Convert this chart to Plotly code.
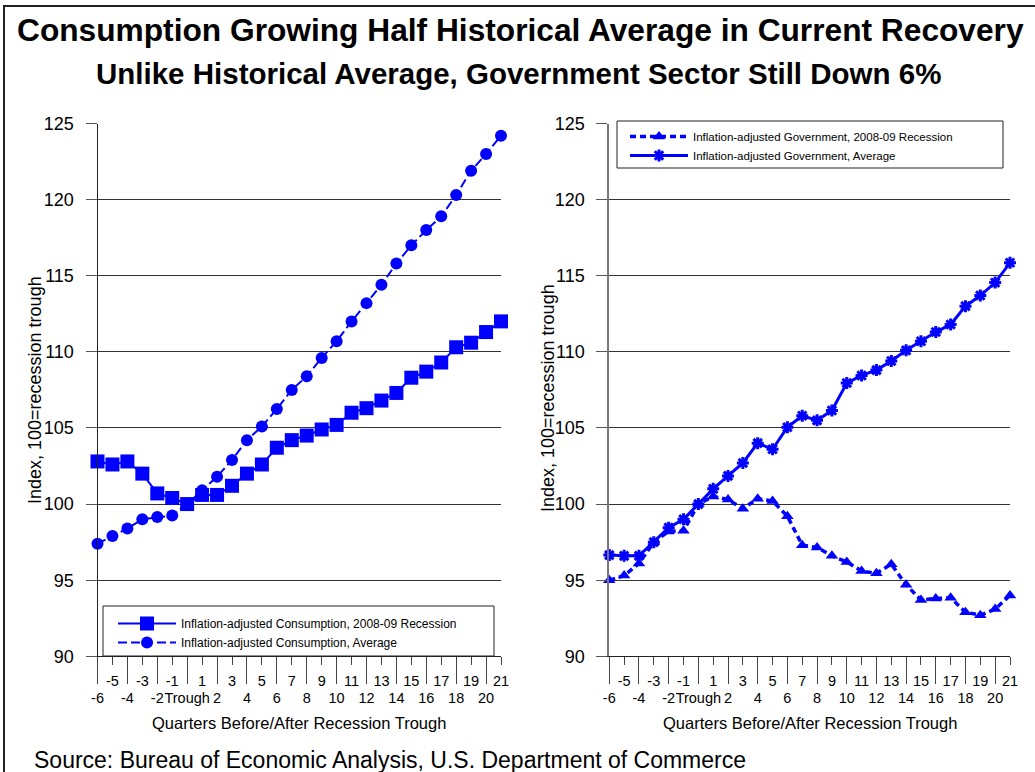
import plotly.graph_objects as go

quarters = list(range(-6, 22))
cons_2008 = [102.8, 102.6, 102.8, 102.0, 100.7, 100.4, 100.0, 100.6, 100.6, 101.2, 102.0, 102.6,
             103.7, 104.2, 104.5, 104.9, 105.2, 106.0, 106.3, 106.8, 107.3, 108.3, 108.7, 109.3,
             110.3, 110.6, 111.3, 112.0]
cons_avg = [97.4, 97.9, 98.4, 99.0, 99.15, 99.25, 100.0, 100.9, 101.8, 102.9, 104.2, 105.1,
            106.25, 107.5, 108.4, 109.6, 110.7, 112.0, 113.2, 114.4, 115.8, 117.0, 118.0, 118.9,
            120.3, 121.9, 123.0, 124.2]
gov_2008 = [95.0, 95.3, 96.1, 97.5, 98.2, 98.25, 100.0, 100.5, 100.3, 99.7, 100.35, 100.2,
            99.2, 97.3, 97.15, 96.6, 96.2, 95.6, 95.45, 96.05, 94.7, 93.7, 93.8, 93.85,
            92.9, 92.7, 93.1, 94.0]
gov_avg = [96.65, 96.6, 96.6, 97.5, 98.45, 99.0, 100.0, 101.0, 101.85, 102.7, 104.0, 103.6,
           105.05, 105.8, 105.5, 106.15, 107.95, 108.45, 108.8, 109.4, 110.1, 110.7, 111.3, 111.8,
           113.0, 113.7, 114.55, 115.85]

even_ticks = [-6, -4, -2, 0, 2, 4, 6, 8, 10, 12, 14, 16, 18, 20]
even_labels = ["-6", "-4", "-2", "Trough", "2", "4", "6", "8", "10", "12", "14", "16", "18", "20"]
odd_ticks = [-5, -3, -1, 1, 3, 5, 7, 9, 11, 13, 15, 17, 19, 21]
odd_labels = ["-5", "-3", "-1", "1", "3", "5", "7", "9", "11", "13", "15", "17", "19", "21"]

title = "Consumption Growing Half Historical Average in Current Recovery"
subtitle = "Unlike Historical Average, Government Sector Still Down 6%"
x_title = "Quarters Before/After Recession Trough"
y_title = "Index, 100=recession trough"
source = "Source: Bureau of Economic Analysis, U.S. Department of Commerce"

FONT = "Liberation Sans, Arial, sans-serif"
BLUE = "#0000FF"
W, H = 1035, 772

fig = go.Figure()

fig.add_trace(go.Scatter(x=quarters, y=cons_2008, mode="lines+markers",
                         name="Inflation-adjusted Consumption, 2008-09 Recession",
                         line=dict(color=BLUE, width=2),
                         marker=dict(symbol="square", size=14, color=BLUE),
                         cliponaxis=False, xaxis="x", yaxis="y", legend="legend"))
fig.add_trace(go.Scatter(x=quarters, y=cons_avg, mode="lines+markers",
                         name="Inflation-adjusted Consumption, Average",
                         line=dict(color=BLUE, width=2, dash="9px,4px"),
                         marker=dict(symbol="circle", size=12, color=BLUE),
                         cliponaxis=False, xaxis="x", yaxis="y", legend="legend"))
fig.add_trace(go.Scatter(x=quarters, y=gov_2008, mode="lines+markers",
                         name="Inflation-adjusted Government, 2008-09 Recession",
                         line=dict(color=BLUE, width=3.5, dash="6px,4px"),
                         marker=dict(symbol="triangle-up", size=11, color=BLUE),
                         cliponaxis=False, xaxis="x2", yaxis="y2", legend="legend2"))
fig.add_trace(go.Scatter(x=quarters, y=gov_avg, mode="lines+markers",
                         name="Inflation-adjusted Government, Average",
                         line=dict(color=BLUE, width=3),
                         marker=dict(symbol="asterisk-open", size=10, color=BLUE,
                                     line=dict(color=BLUE, width=3)),
                         cliponaxis=False, xaxis="x2", yaxis="y2", legend="legend2"))

# empty traces binding the overlaid odd-tick axes
fig.add_trace(go.Scatter(x=[], y=[], xaxis="x3", yaxis="y", showlegend=False, hoverinfo="skip"))
fig.add_trace(go.Scatter(x=[], y=[], xaxis="x4", yaxis="y2", showlegend=False, hoverinfo="skip"))

ydom = [1 - 656.3 / H, 1 - 123.5 / H]
xdom1 = [97.5 / W, 501 / W]
xdom2 = [609.3 / W, 1010 / W]


def xaxis_main(dom, anchor):
    return dict(domain=dom, anchor=anchor, range=[-6, 21], tickmode="array",
                tickvals=even_ticks, ticktext=even_labels, ticks="outside", ticklen=27,
                tickwidth=1, tickcolor="#444", showline=True, linecolor="#222", linewidth=1,
                showgrid=False, zeroline=False, ticklabelstandoff=1, tickangle=0,
                automargin=False,
                tickfont=dict(family=FONT, size=14.5, color="#000"))


def xaxis_odd(over, anchor):
    return dict(overlaying=over, anchor=anchor, side="bottom", range=[-6, 21], tickmode="array",
                tickvals=odd_ticks, ticktext=odd_labels, ticks="outside", ticklen=8,
                tickwidth=1, tickcolor="#444", showline=False, showgrid=False, zeroline=False,
                ticklabelstandoff=3, tickangle=0, automargin=False,
                tickfont=dict(family=FONT, size=14.5, color="#000"))


def yaxis(dom, anchor, lcolor, lwidth):
    return dict(domain=dom, anchor=anchor, range=[90, 125], dtick=5, tick0=90,
                ticks="outside", ticklen=11, tickcolor="#555", tickwidth=1,
                showline=True, linecolor=lcolor, linewidth=lwidth,
                showgrid=True, gridcolor="#333", gridwidth=1, zeroline=False,
                ticklabelstandoff=8, automargin=False,
                tickfont=dict(family=FONT, size=18, color="#000"))


fig.update_layout(
    width=W, height=H, margin=dict(l=0, r=0, t=0, b=0, pad=0, autoexpand=False),
    paper_bgcolor="white", plot_bgcolor="white",
    font=dict(family=FONT, color="#000"),
    xaxis=xaxis_main(xdom1, "y"),
    xaxis3=xaxis_odd("x", "y"),
    yaxis=yaxis(ydom, "x", "#222", 1),
    xaxis2=xaxis_main(xdom2, "y2"),
    xaxis4=xaxis_odd("x2", "y2"),
    yaxis2=yaxis(ydom, "x2", "#777", 2),
    legend=dict(x=113 / W, y=1 - 609 / H, xanchor="left", yanchor="top",
                bgcolor="rgba(0,0,0,0)", borderwidth=0, itemwidth=58,
                font=dict(family=FONT, size=12, color="#000"), tracegroupgap=0),
    legend2=dict(x=625 / W, y=1 - 122 / H, xanchor="left", yanchor="top",
                 bgcolor="rgba(0,0,0,0)", borderwidth=0, itemwidth=58,
                 font=dict(family=FONT, size=11.5, color="#000"), tracegroupgap=0),
    showlegend=True,
)

shapes = [
    # outer frame
    dict(type="rect", xref="paper", yref="paper", x0=4 / W, x1=1.02, y0=-0.02, y1=1 - 6 / H,
         line=dict(color="#222", width=2), fillcolor="rgba(0,0,0,0)", layer="below"),
    # legend boxes
    dict(type="rect", xref="paper", yref="paper", x0=103 / W, x1=494 / W, y0=1 - 656 / H, y1=1 - 606 / H,
         line=dict(color="#222", width=1), fillcolor="white", layer="above"),
    dict(type="rect", xref="paper", yref="paper", x0=617 / W, x1=1003 / W, y0=1 - 168 / H, y1=1 - 121 / H,
         line=dict(color="#222", width=1), fillcolor="white", layer="above"),
]
fig.update_layout(shapes=shapes)

annotations = [
    dict(text="<b>" + title + "</b>", x=520 / W, y=1 - 30 / H, xref="paper", yref="paper",
         showarrow=False, xanchor="center", yanchor="middle",
         font=dict(family=FONT, size=31.7, color="#000")),
    dict(text="<b>" + subtitle + "</b>", x=518 / W, y=1 - 73 / H, xref="paper", yref="paper",
         showarrow=False, xanchor="center", yanchor="middle",
         font=dict(family=FONT, size=29.5, color="#000")),
    dict(text=x_title, x=(97.5 + 501) / 2 / W, y=1 - 723 / H, xref="paper", yref="paper",
         showarrow=False, xanchor="center", yanchor="middle",
         font=dict(family=FONT, size=16.5, color="#000")),
    dict(text=x_title, x=(609.3 + 1010) / 2 / W, y=1 - 723 / H, xref="paper", yref="paper",
         showarrow=False, xanchor="center", yanchor="middle",
         font=dict(family=FONT, size=16.5, color="#000")),
    dict(text=y_title, x=35 / W, y=1 - 390 / H, xref="paper", yref="paper", textangle=-90,
         showarrow=False, xanchor="center", yanchor="middle",
         font=dict(family=FONT, size=18, color="#000")),
    dict(text=y_title, x=548 / W, y=1 - 398 / H, xref="paper", yref="paper", textangle=-90,
         showarrow=False, xanchor="center", yanchor="middle",
         font=dict(family=FONT, size=18, color="#000")),
    dict(text=source, x=32 / W, y=1 - 760 / H, xref="paper", yref="paper",
         showarrow=False, xanchor="left", yanchor="middle",
         font=dict(family=FONT, size=23, color="#000")),
]
fig.update_layout(annotations=annotations)

fig.write_html("out.html", config={"displayModeBar": False},
               post_script="document.body.style.margin='0px';document.body.style.overflow='hidden';")
